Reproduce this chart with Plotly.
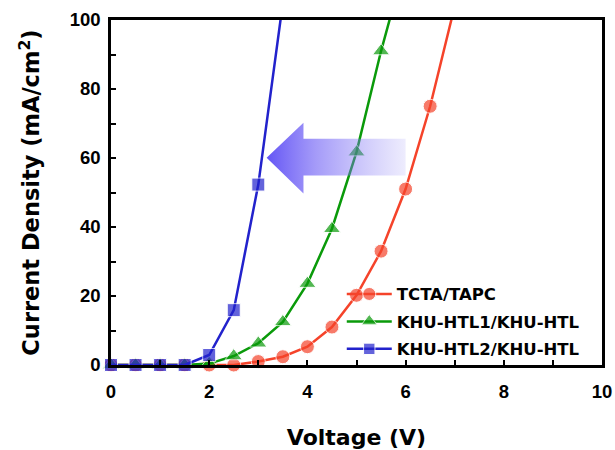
import plotly.graph_objects as go

# ---- data ----
voltage_red = [0, 0.5, 1.0, 1.5, 2.0, 2.5, 3.0, 3.5, 4.0, 4.5, 5.0, 5.5, 6.0, 6.5, 7.0]
current_red = [0, 0, 0, 0, 0, 0, 1.0, 2.4, 5.3, 11.0, 20.2, 33.0, 51.0, 75.0, 104.0]

voltage_green = [0, 0.5, 1.0, 1.5, 2.0, 2.5, 3.0, 3.5, 4.0, 4.5, 5.0, 5.5, 6.0]
current_green = [0, 0, 0, 0, 0.4, 2.6, 6.3, 12.5, 23.6, 39.5, 61.7, 91.0, 117.0]

voltage_blue = [0, 0.5, 1.0, 1.5, 2.0, 2.5, 3.0, 3.5]
current_blue = [0, 0, 0, 0, 2.9, 15.9, 52.3, 105.0]

series_names = ["TCTA/TAPC", "KHU-HTL1/KHU-HTL", "KHU-HTL2/KHU-HTL"]

x_tick_vals = [0, 2, 4, 6, 8, 10]
y_tick_vals = [0, 20, 40, 60, 80, 100]

# arrow outline (annotation graphic, data coordinates)
arrow_x = [3.17, 3.92, 3.92, 6.0, 6.0, 3.92, 3.92, 3.17]
arrow_y = [60.1, 70.2, 65.6, 65.6, 54.9, 54.9, 49.7, 60.1]

FONT = "Liberation Sans, Arial, sans-serif"
WIDE = "DejaVu Sans, Verdana, sans-serif"


def sizes(ys, s):
    return [s if y <= 100 else 0 for y in ys]


fig = go.Figure()
fig.add_trace(go.Scatter(
    x=voltage_red, y=current_red, name=series_names[0], mode="lines+markers",
    line=dict(color="#f5432a", width=2.5),
    marker=dict(symbol="circle", size=sizes(current_red, 14), color="#f5432a"),
    cliponaxis=False, legendgroup="a"))
fig.add_trace(go.Scatter(
    x=voltage_green, y=current_green, name=series_names[1], mode="lines+markers",
    line=dict(color="#0a9a0a", width=2.5),
    marker=dict(symbol="triangle-up", size=sizes(current_green, 15), color="#0a9a0a"),
    cliponaxis=False, legendgroup="b"))
fig.add_trace(go.Scatter(
    x=voltage_blue, y=current_blue, name=series_names[2], mode="lines+markers",
    line=dict(color="#2222cc", width=2.5),
    marker=dict(symbol="square", size=sizes(current_blue, 13), color="#2222cc"),
    cliponaxis=False, legendgroup="c"))

fig.add_trace(go.Scatter(
    x=arrow_x, y=arrow_y, mode="lines", fill="toself", line=dict(width=0),
    fillgradient=dict(type="horizontal",
                      colorscale=[[0, "rgba(95,80,245,0.97)"], [0.35, "rgba(115,100,245,0.65)"],
                                  [1, "rgba(140,130,245,0.15)"]]),
    showlegend=False, hoverinfo="skip"))

axis_common = dict(
    showline=True, linecolor="black", linewidth=2.5, mirror=True,
    ticks="inside", ticklen=5, tickwidth=1.5, tickcolor="black",
    showgrid=False, zeroline=False, automargin=False, ticklabeloverflow="allow",
    tickfont=dict(family=FONT, size=18.5, color="black", weight="bold"),
)

fig.update_xaxes(
    range=[0, 10], tickvals=x_tick_vals, ticklabelstandoff=8,
    minor=dict(dtick=1, ticks="inside", ticklen=5, tickwidth=1.5, tickcolor="black"),
    title=dict(text="Voltage (V)", font=dict(family=WIDE, size=22, color="black", weight="bold"), standoff=32),
    **axis_common)
fig.update_yaxes(
    range=[0, 100], tickvals=y_tick_vals, ticklabelstandoff=4,
    minor=dict(dtick=10, ticks="inside", ticklen=5, tickwidth=1.5, tickcolor="black"),
    title=dict(text="Current Density (mA/cm<sup>2</sup>)", font=dict(family=WIDE, size=22.5, color="black", weight="bold"), standoff=24),
    **axis_common)

fig.update_layout(
    width=615, height=450,
    margin=dict(l=111, r=13, t=20, b=85),
    paper_bgcolor="white", plot_bgcolor="white",
    legend=dict(x=0.47, y=-0.005, xanchor="left", yanchor="bottom", itemwidth=45,
                bgcolor="rgba(0,0,0,0)", traceorder="grouped", tracegroupgap=3,
                font=dict(family=WIDE, size=16.5, color="black", weight="bold")),
)

fig.write_html("out.html", config={"displayModeBar": False},
               post_script="document.body.style.margin='0px';")
